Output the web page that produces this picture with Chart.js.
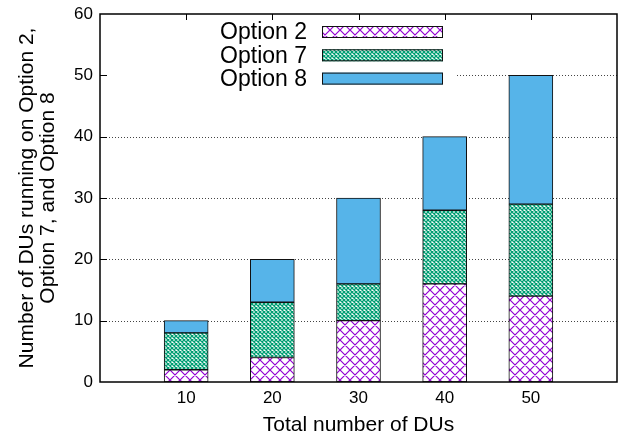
<!DOCTYPE html>
<html>
<head>
<meta charset="utf-8">
<script src="https://cdn.jsdelivr.net/npm/chart.js@4/dist/chart.umd.min.js"></script>
<style>
  html, body { margin: 0; padding: 0; background: #fff; }
  #c { display: block; }
</style>
</head>
<body>
<canvas id="c" width="618" height="439"></canvas>
<script>
// Stacked DU counts per deployment size
const totalDUs = [10, 20, 30, 40, 50];
const option2 = [2, 4, 10, 16, 14];
const option7 = [6, 9, 6, 12, 15];
const option8 = [2, 7, 14, 12, 21];
const yTickValues = [0, 10, 20, 30, 40, 50, 60];
const seriesNames = ['Option 2', 'Option 7', 'Option 8'];

const FONT = "'Liberation Sans', Arial, Helvetica, sans-serif";
const canvas = document.getElementById('c');
const ctx = canvas.getContext('2d');

// Hatch tiles: diagonal cross-hatch on white
function crossHatch(size, color, lw) {
  const t = document.createElement('canvas');
  t.width = t.height = size;
  const g = t.getContext('2d');
  g.fillStyle = '#ffffff';
  g.fillRect(0, 0, size, size);
  g.strokeStyle = color;
  g.lineWidth = lw;
  g.beginPath();
  for (let k = -1; k <= 1; k++) {
    g.moveTo(k * size, 0); g.lineTo(k * size + size, size);
    g.moveTo(k * size + size, 0); g.lineTo(k * size, size);
  }
  g.stroke();
  return ctx.createPattern(t, 'repeat');
}

const purpleHatch = crossHatch(10, '#9400D3', 1.2);
const greenMesh = crossHatch(4, '#009E73', 1.3);
const blueFill = '#56B4E9';

const toPoints = vals => vals.map((v, i) => ({ x: totalDUs[i], y: v }));

const fills = [purpleHatch, greenMesh, blueFill];
const seriesValues = [option2, option7, option8];

const datasets = seriesNames.map((name, i) => ({
  label: name,
  data: toPoints(seriesValues[i]),
  backgroundColor: fills[i],
  borderColor: '#111111',
  borderWidth: 1,
  borderSkipped: false,
  barThickness: 44
}));

// Gridlines, key box, plot frame and inward tick marks
const decorations = {
  id: 'decorations',
  beforeDatasetsDraw(chart) {
    const { ctx, chartArea: a, scales: { y } } = chart;
    ctx.save();
    ctx.strokeStyle = '#444';
    ctx.lineWidth = 1;
    ctx.setLineDash([1, 2]);
    yTickValues.slice(1, -1).forEach(v => {
      const py = Math.round(y.getPixelForValue(v)) + 0.5;
      ctx.beginPath();
      ctx.moveTo(a.left, py);
      ctx.lineTo(a.right, py);
      ctx.stroke();
    });
    ctx.restore();
  },
  afterDatasetsDraw(chart) {
    const { ctx, chartArea: a, scales: { x, y } } = chart;
    ctx.save();
    // key
    ctx.fillStyle = '#ffffff';
    ctx.fillRect(a.left + 1, a.top + 1, 355, 74);
    ctx.font = '23px ' + FONT;
    ctx.textAlign = 'right';
    ctx.textBaseline = 'middle';
    chart.data.datasets.forEach((ds, i) => {
      const cy = 32 + i * 23.3;
      ctx.fillStyle = '#000';
      ctx.fillText(ds.label, 307, cy + 1);
      ctx.fillStyle = ds.backgroundColor;
      ctx.fillRect(322, cy - 6, 121, 12);
      ctx.strokeStyle = '#111';
      ctx.lineWidth = 1;
      ctx.strokeRect(322.5, cy - 5.5, 120, 11);
    });
    // frame
    ctx.strokeStyle = '#000';
    ctx.lineWidth = 1.5;
    ctx.strokeRect(a.left, a.top, a.right - a.left, a.bottom - a.top);
    // ticks
    ctx.lineWidth = 1;
    ctx.beginPath();
    yTickValues.slice(1, -1).forEach(v => {
      const py = Math.round(y.getPixelForValue(v)) + 0.5;
      ctx.moveTo(a.left, py); ctx.lineTo(a.left + 7, py);
    });
    totalDUs.forEach(v => {
      const px = Math.round(x.getPixelForValue(v)) + 0.5;
      ctx.moveTo(px, a.top); ctx.lineTo(px, a.top + 6);
    });
    ctx.stroke();
    ctx.restore();
  }
};

new Chart(ctx, {
  type: 'bar',
  data: { datasets },
  options: {
    responsive: false,
    animation: false,
    devicePixelRatio: 1,
    layout: { padding: { top: 14, right: 1, left: 0, bottom: 0 }, autoPadding: false },
    plugins: { legend: { display: false }, tooltip: { enabled: false } },
    scales: {
      x: {
        type: 'linear',
        stacked: true,
        offset: false,
        min: 0,
        max: 60,
        afterBuildTicks: s => { s.ticks = totalDUs.map(v => ({ value: v })); },
        afterFit: s => { s.height = 57; },
        grid: { display: false, drawTicks: false, offset: false },
        border: { display: false },
        ticks: {
          padding: 6,
          color: '#000',
          font: { size: 17, family: FONT },
          callback: v => String(v)
        },
        title: {
          display: true,
          text: 'Total number of DUs',
          color: '#000',
          font: { size: 21, family: FONT },
          padding: { top: 0, bottom: 1 }
        }
      },
      y: {
        stacked: true,
        min: 0,
        max: 60,
        afterBuildTicks: s => { s.ticks = yTickValues.map(v => ({ value: v })); },
        afterFit: s => { s.width = 100; s.paddingTop = 0; s.paddingBottom = 0; },
        grid: { display: false, drawTicks: false },
        border: { display: false },
        ticks: {
          padding: 7,
          color: '#000',
          font: { size: 17, family: FONT, lineHeight: 0.6 }
        },
        title: {
          display: true,
          text: ['Number of DUs running on Option 2,', 'Option 7, and Option 8'],
          color: '#000',
          font: { size: 21, family: FONT, lineHeight: 0.98 },
          padding: { top: 17, bottom: 0 }
        }
      }
    }
  },
  plugins: [decorations]
});
</script>
</body>
</html>
